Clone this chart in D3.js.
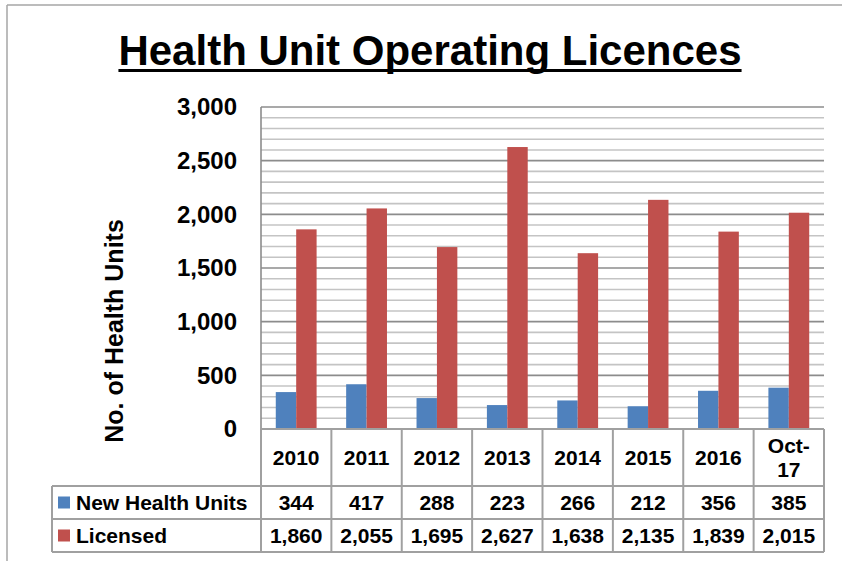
<!DOCTYPE html>
<html>
<head>
<meta charset="utf-8">
<script src="https://cdn.jsdelivr.net/npm/d3@7"></script>
<style>
  body { margin: 0; background: #fff; }
  svg text { font-family: "Liberation Sans", Arial, sans-serif; font-weight: bold; fill: #000; }
</style>
</head>
<body>
<svg id="chart" width="842" height="561"></svg>
<script>
// chart data
const categories = ["2010", "2011", "2012", "2013", "2014", "2015", "2016", "Oct-17"];
const newUnits = [344, 417, 288, 223, 266, 212, 356, 385];
const licensed = [1860, 2055, 1695, 2627, 1638, 2135, 1839, 2015];
const seriesNames = ["New Health Units", "Licensed"];
const yTicks = [0, 500, 1000, 1500, 2000, 2500, 3000];

const colors = ["#4F81BD", "#C0504D"];
const svg = d3.select("#chart");

const plotL = 261, plotR = 824, plotT = 107, plotB = 429;
const tableLeft = 52;
const rowH = [57, 33, 33];

// outer frame (only top and left visible)
svg.append("line").attr("x1", 7).attr("x2", 842).attr("y1", 5).attr("y2", 5)
  .attr("stroke", "#a6a6a6").attr("stroke-width", 1.5);
svg.append("line").attr("x1", 7).attr("x2", 7).attr("y1", 5).attr("y2", 561)
  .attr("stroke", "#a6a6a6").attr("stroke-width", 1.5);

// title
const title = svg.append("text")
  .attr("x", 430).attr("y", 65)
  .attr("text-anchor", "middle")
  .style("font-size", "42px")
  .text("Health Unit Operating Licences");
const tw = title.node().getComputedTextLength();
svg.append("line")
  .attr("x1", 430 - tw / 2).attr("x2", 430 + tw / 2)
  .attr("y1", 70.5).attr("y2", 70.5)
  .attr("stroke", "#000").attr("stroke-width", 3);

const y = d3.scaleLinear().domain([0, 3000]).range([plotB, plotT]);
const x = d3.scaleBand().domain(categories).range([plotL, plotR])
  .paddingInner(0.42).paddingOuter(0.21);
const xCell = d3.scaleBand().domain(categories).range([plotL, plotR]);
const x1 = d3.scaleBand().domain(seriesNames).range([0, x.bandwidth()]);

// gridlines every 100, darker every 500
const gridVals = d3.range(100, 3001, 100);
svg.append("g").selectAll("line").data(gridVals).enter().append("line")
  .attr("x1", plotL).attr("x2", plotR)
  .attr("y1", d => y(d)).attr("y2", d => y(d))
  .attr("stroke", d => d % 500 === 0 ? "#8c8c8c" : "#c4c4c4")
  .attr("stroke-width", 1.6);

// y axis labels
const yAxis = svg.append("g")
  .attr("transform", "translate(" + plotL + ",0)")
  .call(d3.axisLeft(y).tickValues(yTicks).tickSize(0).tickPadding(24).tickFormat(d3.format(",")));
yAxis.select(".domain").remove();
yAxis.selectAll("text").style("font-size", "24px");

svg.append("line").attr("x1", plotL).attr("x2", plotL).attr("y1", plotT).attr("y2", plotB)
  .attr("stroke", "#8c8c8c").attr("stroke-width", 1.6);

// y title
svg.append("text")
  .attr("transform", "translate(123,331) rotate(-90)")
  .attr("text-anchor", "middle")
  .style("font-size", "25px")
  .text("No. of Health Units");

// bars
const series = [newUnits, licensed];
series.forEach((vals, si) => {
  svg.append("g").selectAll("rect").data(vals).enter().append("rect")
    .attr("x", (d, i) => x(categories[i]) + x1(seriesNames[si]))
    .attr("y", d => y(d))
    .attr("width", x1.bandwidth())
    .attr("height", d => plotB - y(d))
    .attr("fill", colors[si]);
});

// data table
const tb = svg.append("g");
const r1 = plotB + rowH[0], r2 = r1 + rowH[1], r3 = r2 + rowH[2];
const border = "#a0a0a0";
// horizontal lines
tb.append("line").attr("x1", plotL).attr("x2", plotR).attr("y1", plotB).attr("y2", plotB);
[r1, r2, r3].forEach(yy => tb.append("line").attr("x1", tableLeft).attr("x2", plotR).attr("y1", yy).attr("y2", yy));
// vertical lines
tb.append("line").attr("x1", tableLeft).attr("x2", tableLeft).attr("y1", r1).attr("y2", r3);
categories.forEach(c => {
  tb.append("line").attr("x1", xCell(c)).attr("x2", xCell(c)).attr("y1", plotB).attr("y2", r3);
});
tb.append("line").attr("x1", plotR).attr("x2", plotR).attr("y1", plotB).attr("y2", r3);
tb.selectAll("line").attr("stroke", border).attr("stroke-width", 2);

// category labels
categories.forEach(c => {
  const cx = xCell(c) + xCell.bandwidth() / 2;
  const t = tb.append("text").attr("text-anchor", "middle").style("font-size", "21px");
  const parts = c.includes("-") ? [c.split("-")[0] + "-", c.split("-")[1]] : [c];
  const cy = plotB + rowH[0] / 2;
  parts.forEach((p, k) => {
    t.append("tspan").attr("x", cx)
      .attr("y", cy + 7 + (k - (parts.length - 1) / 2) * 24)
      .text(p);
  });
});

// series rows
const rowMid = [r1 + rowH[1] / 2, r2 + rowH[2] / 2];
series.forEach((vals, si) => {
  tb.append("rect").attr("x", 58).attr("y", rowMid[si] - 6).attr("width", 12).attr("height", 12)
    .attr("fill", colors[si]);
  tb.append("text").attr("x", 76).attr("y", rowMid[si] + 7.5)
    .style("font-size", "21px").text(seriesNames[si]);
  vals.forEach((v, i) => {
    tb.append("text")
      .attr("x", xCell(categories[i]) + xCell.bandwidth() / 2)
      .attr("y", rowMid[si] + 7.5)
      .attr("text-anchor", "middle")
      .style("font-size", "21px")
      .text(d3.format(",")(v));
  });
});
</script>
</body>
</html>
